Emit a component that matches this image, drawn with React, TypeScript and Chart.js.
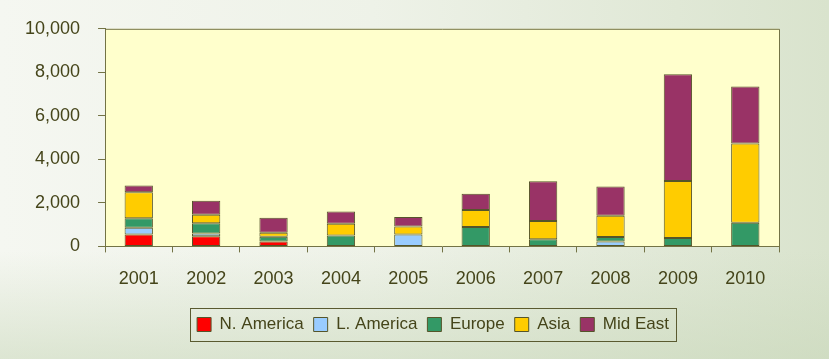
import React, { useEffect, useRef } from "react";
import { Chart, registerables } from "chart.js";

Chart.register(...registerables);

const categories = ["2001", "2002", "2003", "2004", "2005", "2006", "2007", "2008", "2009", "2010"];
const northAmerica = [550, 470, 220, null, null, null, null, null, null, null];
const latinAmerica = [310, 120, null, null, 550, null, null, 220, null, null];
const europe = [430, 470, 220, 500, null, 890, 330, 210, 390, 1090];
const asia = [1200, 400, 190, 540, 370, 780, 840, 980, 2620, 3640];
const midEast = [310, 640, 690, 560, 430, 750, 1820, 1340, 4900, 2620];
const seriesNames = ["N. America", "L. America", "Europe", "Asia", "Mid East"];
const yTicks = [0, 2000, 4000, 6000, 8000, 10000];

const FONT = "'Liberation Sans', Arial, sans-serif";
const TEXT = "#45451a";
const AXIS = "#737345";
const BAR_BORDER = "#55552a";

export default function App() {
  const ref = useRef<HTMLCanvasElement | null>(null);
  useEffect(() => {
    if (!ref.current) return;
    const plotBg = {
      id: "plotBg",
      beforeDraw(chart: any) {
        const { ctx, chartArea: a } = chart;
        ctx.save();
        ctx.fillStyle = "#ffffcc";
        ctx.fillRect(a.left, a.top, a.right - a.left, a.bottom - a.top);
        ctx.restore();
      },
      afterDraw(chart: any) {
        const { ctx, chartArea: a } = chart;
        ctx.save();
        ctx.strokeStyle = AXIS;
        ctx.lineWidth = 1;
        ctx.beginPath();
        ctx.moveTo(a.left, a.top + 0.5);
        ctx.lineTo(a.right + 0.5, a.top + 0.5);
        ctx.lineTo(a.right + 0.5, a.bottom);
        ctx.stroke();
        const lg = chart.legend;
        if (lg && lg.legendHitBoxes && lg.legendHitBoxes.length) {
          const hb = lg.legendHitBoxes;
          const l = Math.min(...hb.map((h: any) => h.left)) - 7;
          const r = Math.max(...hb.map((h: any) => h.left + h.width)) + 7;
          const t = Math.min(...hb.map((h: any) => h.top)) - 8;
          const b = Math.max(...hb.map((h: any) => h.top + h.height)) + 8;
          ctx.strokeStyle = "#5a5a30";
          ctx.strokeRect(Math.round(l) + 0.5, Math.round(t) + 0.5, Math.round(r - l), Math.round(b - t));
        }
        ctx.restore();
      },
    };
    const shiftLegend = {
      id: "shiftLegend",
      afterLayout(chart: any) {
        const lg = chart.legend;
        if (lg) {
          lg.left += 40;
          lg.right += 40;
        }
      },
    };
    const colors = ["#ff0000", "#99ccff", "#339966", "#ffcc00", "#993366"];
    const values = [northAmerica, latinAmerica, europe, asia, midEast];
    const chart = new Chart(ref.current, {
      type: "bar",
      data: {
        labels: categories,
        datasets: values.map((v, i) => ({
          label: seriesNames[i],
          data: v,
          backgroundColor: colors[i],
          borderColor: BAR_BORDER,
          borderWidth: 1,
          borderSkipped: false,
          barPercentage: 0.42,
          categoryPercentage: 1,
        })),
      },
      options: {
        responsive: true,
        maintainAspectRatio: false,
        animation: false,
        layout: { padding: { left: 7, right: 50, top: 22, bottom: 16 } },
        plugins: {
          tooltip: { enabled: false },
          legend: {
            position: "bottom",
            labels: {
              boxWidth: 14,
              boxHeight: 14,
              padding: 10,
              color: TEXT,
              font: { family: FONT, size: 17 },
            },
          },
        },
        scales: {
          x: {
            stacked: true,
            offset: true,
            grid: { display: true, drawOnChartArea: false, offset: true, tickLength: 6, color: AXIS },
            border: { display: true, color: AXIS, width: 1 },
            ticks: { color: TEXT, font: { family: FONT, size: 18 }, padding: 16 },
          },
          y: {
            stacked: true,
            min: 0,
            max: 10000,
            afterBuildTicks(axis: any) {
              axis.ticks = yTicks.map((v) => ({ value: v }));
            },
            grid: { display: true, drawOnChartArea: false, tickLength: 7, color: AXIS },
            border: { display: true, color: AXIS, width: 1 },
            ticks: {
              color: TEXT,
              font: { family: FONT, size: 18 },
              padding: 18,
              callback: (v: any) => Number(v).toLocaleString("en-US"),
            },
          },
        },
      },
      plugins: [plotBg, shiftLegend],
    });
    return () => chart.destroy();
  }, []);
  return (
    <div
      style={{
        position: "fixed",
        left: 0,
        top: 0,
        width: 829,
        height: 359,
        background:
          "linear-gradient(180deg, rgba(255,255,255,0) 70%, rgba(200,215,185,0.55) 100%), linear-gradient(90deg, #f5f7f1 0%, #eef2e8 45%, #d9e3cd 100%)",
      }}
    >
      <canvas ref={ref} />
    </div>
  );
}
